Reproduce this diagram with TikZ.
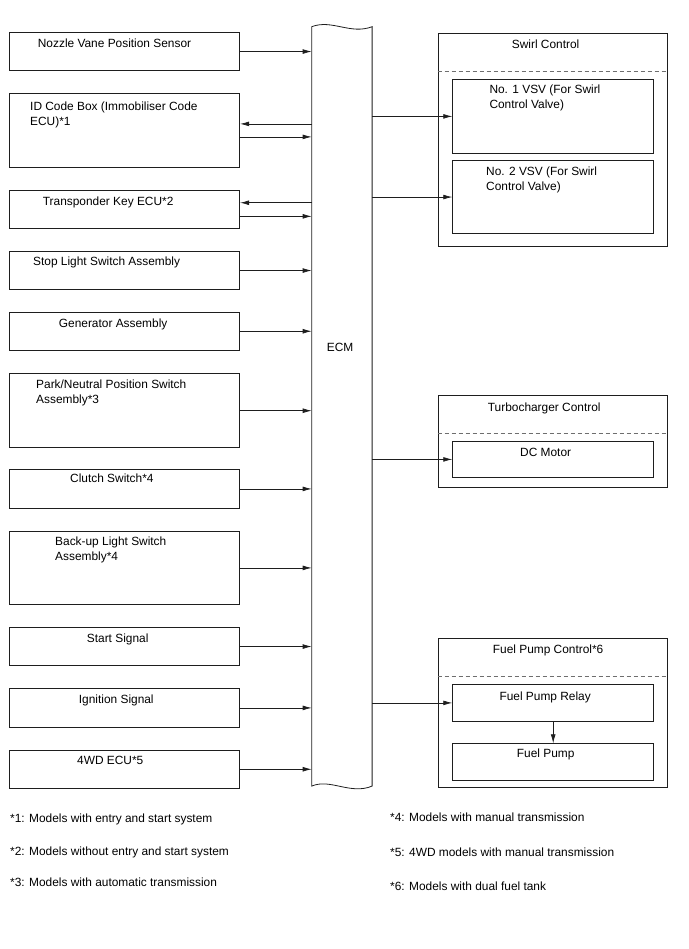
\documentclass[tikz,border=0pt]{standalone}
\usepackage{fontspec}
\setmainfont{Liberation Sans}
\usepackage{xcolor}
\usepackage{tikz}
\usetikzlibrary{arrows.meta,positioning,calc}
\definecolor{Frame}{HTML}{1E1E1E}
\definecolor{DashLine}{HTML}{6E6E6E}

\tikzset{
  unitbox/.style={draw=Frame, line width=0.8pt, anchor=north west,
    inner sep=0pt, minimum width=230pt},
  ctrlbox/.style={draw=Frame, line width=0.8pt, anchor=north west,
    inner sep=0pt, minimum width=229.6pt},
  partbox/.style={draw=Frame, line width=0.8pt, anchor=north west,
    inner sep=0pt, minimum width=201pt},
  lbl/.style={anchor=north west, inner sep=0pt, align=left,
    font=\fontsize{11.9}{15}\selectfont},
  sig/.style={draw=Frame, line width=0.7pt, -{Latex[length=9pt,width=4.8pt]}},
  divider/.style={draw=DashLine, line width=0.7pt, dash pattern=on 4pt off 3pt}
}

\begin{document}
\begin{tikzpicture}[x=1pt,y=-1pt]
  \useasboundingbox (0,0) rectangle (688,949);

  % ECM (drawn with torn ends)
  \node[inner sep=0pt, minimum width=60pt, minimum height=759pt, anchor=north west]
    (ecm) at (311.7,26.7) {};
  \draw[draw=Frame, line width=0.8pt]
    (ecm.north west) .. controls +(20.3,-7.7) and +(-21.7,8.3) .. (ecm.north east)
    -- (ecm.south east) .. controls +(-21.7,9) and +(18.3,-8) .. (ecm.south west)
    -- cycle;
  \node[lbl] (ecmT) at (326.7,343.3) {ECM};

  % inputs
  \node[unitbox, minimum height=37.7pt] (nozzle) at (9.3,32.3) {};
  \node[lbl] (nozzleT) at (37.7,38.3) {Nozzle Vane Position Sensor};
  \node[unitbox, minimum height=73.4pt] (idcode) at (9.3,93.3) {};
  \node[lbl] (idcodeT) at (30,101.7) {ID Code Box (Immobiliser Code\\ECU)*1};
  \node[unitbox, minimum height=38.3pt] (transp) at (9.3,190) {};
  \node[lbl] (transpT) at (42.7,196.7) {Transponder Key ECU*2};
  \node[unitbox, minimum height=38.3pt] (stoplt) at (9.3,251) {};
  \node[lbl] (stopltT) at (33,256.7) {Stop Light Switch Assembly};
  \node[unitbox, minimum height=38.3pt] (gener) at (9.3,311.7) {};
  \node[lbl] (generT) at (58.7,318.3) {Generator Assembly};
  \node[unitbox, minimum height=74pt] (parknp) at (9.3,373.3) {};
  \node[lbl] (parknpT) at (36,380) {Park/Neutral Position Switch\\Assembly*3};
  \node[unitbox, minimum height=38.4pt] (clutch) at (9.3,469.3) {};
  \node[lbl] (clutchT) at (70,474) {Clutch Switch*4};
  \node[unitbox, minimum height=73.6pt] (backup) at (9.3,530.7) {};
  \node[lbl] (backupT) at (55,536.7) {Back-up Light Switch\\Assembly*4};
  \node[unitbox, minimum height=37.7pt] (startsig) at (9.3,627.3) {};
  \node[lbl] (startsigT) at (86.7,633.3) {Start Signal};
  \node[unitbox, minimum height=38.4pt] (ignsig) at (9.3,688.3) {};
  \node[lbl] (ignsigT) at (78.7,695) {Ignition Signal};
  \node[unitbox, minimum height=37.7pt] (fourwd) at (9.3,750) {};
  \node[lbl] (fourwdT) at (77,755.7) {4WD ECU*5};

  % outputs
  \node[ctrlbox, minimum height=213pt] (swirl) at (437.7,32.7) {};
  \node[lbl] (swirlT) at (511.7,40) {Swirl Control};
  \draw[divider] ([yshift=-38.3pt]swirl.north west) -- ([yshift=-38.3pt]swirl.north east);
  \node[partbox, minimum height=73.4pt] (vsvone) at (452.3,79.3) {};
  \node[lbl] (vsvoneT) at (489.3,85) {No. 1 VSV (For Swirl\\Control Valve)};
  \node[partbox, minimum height=73.3pt] (vsvtwo) at (452.3,160) {};
  \node[lbl] (vsvtwoT) at (486,166.7) {No. 2 VSV (For Swirl\\Control Valve)};

  \node[ctrlbox, minimum height=92.3pt] (turbo) at (437.7,395) {};
  \node[lbl] (turboT) at (487.7,402.7) {Turbocharger Control};
  \draw[divider] ([yshift=-38.3pt]turbo.north west) -- ([yshift=-38.3pt]turbo.north east);
  \node[partbox, minimum height=36.6pt] (dcmotor) at (452.3,440.7) {};
  \node[lbl] (dcmotorT) at (520,448.3) {DC Motor};

  \node[ctrlbox, minimum height=149pt] (fuelctl) at (437.7,638.3) {};
  \node[lbl] (fuelctlT) at (492.7,645) {Fuel Pump Control*6};
  \draw[divider] ([yshift=-37.7pt]fuelctl.north west) -- ([yshift=-37.7pt]fuelctl.north east);
  \node[partbox, minimum height=36.4pt] (relay) at (452.3,684.3) {};
  \node[lbl] (relayT) at (499.3,691.7) {Fuel Pump Relay};
  \node[partbox, minimum height=36.7pt] (pump) at (452.3,743.3) {};
  \node[lbl] (pumpT) at (516.7,748.3) {Fuel Pump};

  % signal lines
  \coordinate (idRx) at ($(idcode.east)+(0,-6.5)$);
  \coordinate (idTx) at ($(idcode.east)+(0,6.5)$);
  \coordinate (trRx) at ($(transp.east)+(0,-6.8)$);
  \coordinate (trTx) at ($(transp.east)+(0,6.8)$);
  \draw[sig] (nozzle.east) -- (nozzle.east -| ecm.west);
  \draw[sig] (idRx -| ecm.west) -- (idRx);
  \draw[sig] (idTx) -- (idTx -| ecm.west);
  \draw[sig] (trRx -| ecm.west) -- (trRx);
  \draw[sig] (trTx) -- (trTx -| ecm.west);
  \draw[sig] (stoplt.east) -- (stoplt.east -| ecm.west);
  \draw[sig] (gener.east) -- (gener.east -| ecm.west);
  \draw[sig] (parknp.east) -- (parknp.east -| ecm.west);
  \draw[sig] (clutch.east) -- (clutch.east -| ecm.west);
  \draw[sig] (backup.east) -- (backup.east -| ecm.west);
  \draw[sig] (startsig.east) -- (startsig.east -| ecm.west);
  \draw[sig] (ignsig.east) -- (ignsig.east -| ecm.west);
  \draw[sig] (fourwd.east) -- (fourwd.east -| ecm.west);
  \draw[sig] (vsvone.west -| ecm.east) -- (vsvone.west);
  \draw[sig] (vsvtwo.west -| ecm.east) -- (vsvtwo.west);
  \draw[sig] (dcmotor.west -| ecm.east) -- (dcmotor.west);
  \draw[sig] (relay.west -| ecm.east) -- (relay.west);
  \draw[sig] (relay.south) -- (pump.north);

  % notes
  \node[lbl] (noteA) at (10,814) {*1: Models with entry and start system};
  \node[lbl] (noteB) at (10,846.7) {*2: Models without entry and start system};
  \node[lbl] (noteC) at (10,878) {*3: Models with automatic transmission};
  \node[lbl] (noteD) at (390,813) {*4: Models with manual transmission};
  \node[lbl] (noteE) at (390,848) {*5: 4WD models with manual transmission};
  \node[lbl] (noteF) at (390,881.7) {*6: Models with dual fuel tank};
\end{tikzpicture}
\end{document}
